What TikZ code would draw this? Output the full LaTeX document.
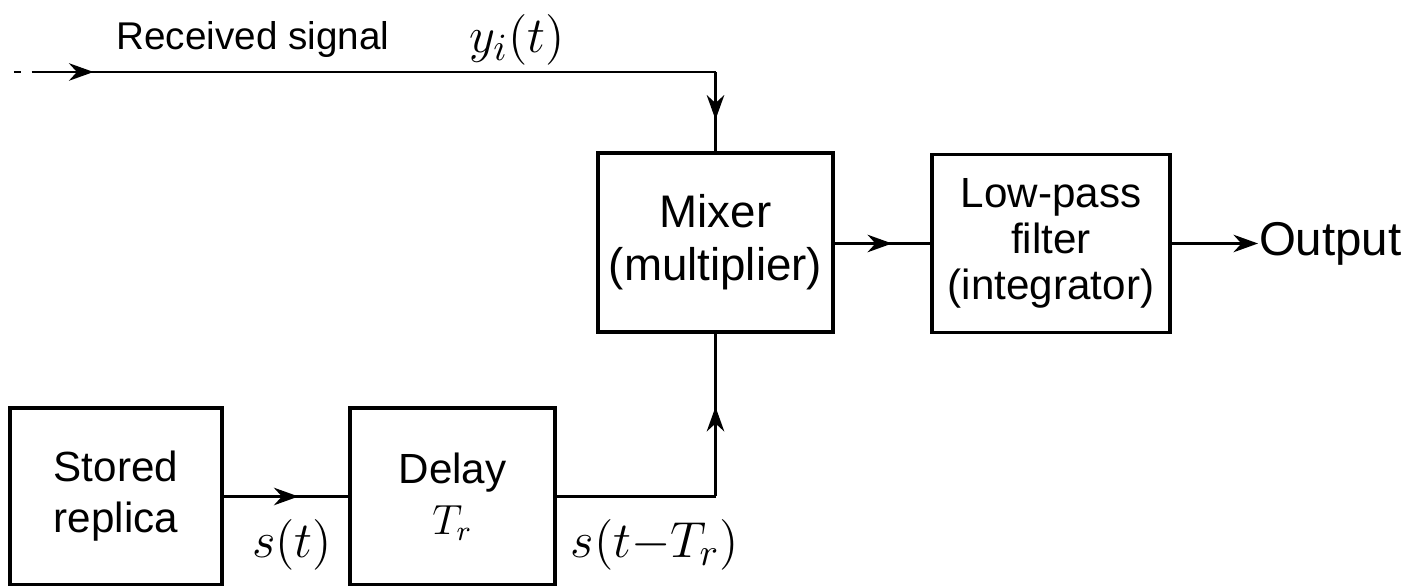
\documentclass[tikz,border=0pt]{standalone}
\usepackage{fontspec}
\setmainfont{Liberation Sans}
\usetikzlibrary{arrows.meta,decorations.markings}
\tikzset{
	blk/.style={draw, line width=0.9pt, align=center, inner sep=0pt},
	sig/.style={font=\fontsize{15}{18}\selectfont},
	midarrow/.style={decoration={markings, mark=at position #1 with {\arrow{Stealth[length=7pt,width=5pt]}}}, postaction={decorate}}
}
\begin{document}
\begin{tikzpicture}[>={Stealth[length=7pt,width=5pt]}, line width=0.6pt, font=\fontsize{12}{14.5}\selectfont]
		\useasboundingbox (0,0) rectangle (14.08,5.86);
		\node[blk, minimum width=2.35cm, minimum height=1.79cm, font=\fontsize{13}{15}\selectfont] (mix) at (7.155,3.435) {Mixer\\(multiplier)};
		\node[blk, minimum width=2.38cm, minimum height=1.78cm, font=\fontsize{12}{13}\selectfont] (lpf) at (10.51,3.425) {Low-pass\\filter\\(integrator)};
		\node[blk, minimum width=2.12cm, minimum height=1.77cm] (rep) at (1.16,0.895) {Stored\\replica};
		\node[blk, minimum width=2.05cm, minimum height=1.77cm] (del) at (4.525,0.895) {Delay\\$T_r$};
		\node[anchor=west, inner sep=0pt, font=\fontsize{13.5}{16}\selectfont] (out) at (12.58,3.425) {Output};
		\begin{scope}
			\coordinate (src) at (0.14,5.14);
			\coordinate (in) at (0.32,5.14);
			\coordinate (tl) at (mix.north |- in);
			\coordinate (br) at (mix.south |- del.east);
			\draw[dash pattern=on 2pt off 3pt] (src) -- (in);
			\draw[midarrow=0.09] (in) -- (tl);
			\draw[midarrow=0.6] (tl) -- (mix.north);
			\draw[midarrow=0.6] (rep.east) -- (del.west);
			\draw (del.east) -- (br);
			\draw[midarrow=0.55] (br) -- (mix.south);
			\draw[midarrow=0.6] (mix.east |- out) -- (lpf.west |- out);
			\draw[->] (lpf.east |- out) -- (out.west);
		\end{scope}
		\node[font=\fontsize{11}{13}\selectfont] (rcv) at (2.53,5.46) {Received signal};
		\node[sig] (yin) at (5.17,5.46) {$y_i(t)$};
		\node[sig] (st) at (2.92,0.41) {$s(t)$};
		\node[sig] (std) at (6.55,0.41) {$s(t{-}T_r)$};
	\end{tikzpicture}
\end{document}
